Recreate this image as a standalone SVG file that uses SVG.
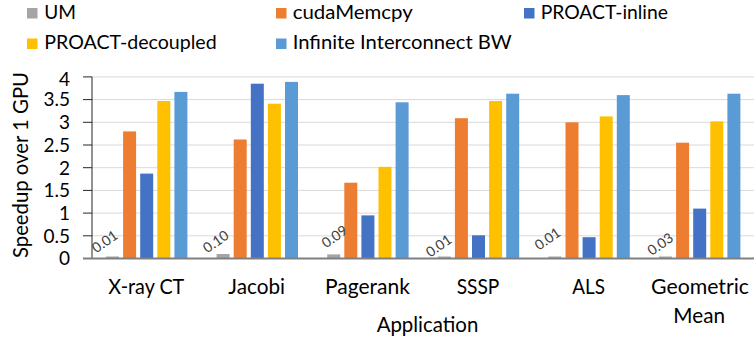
<svg xmlns="http://www.w3.org/2000/svg" width="754" height="343" viewBox="0 0 754 343">
  <style>
    text { font-family: Lato, "Liberation Sans", sans-serif; fill: #000; }
    .legend { font-size: 19.5px; }
    .tick { font-size: 19px; text-anchor: end; }
    .cat { font-size: 20.5px; text-anchor: middle; }
    .title { font-size: 20.5px; text-anchor: middle; }
    .val { font-size: 14px; text-anchor: middle; fill: #404040; }
    .grid line { stroke: #D9D9D9; stroke-width: 1; }
    .um { fill: #A5A5A5; }
    .cuda { fill: #ED7D31; }
    .inline { fill: #4472C4; }
    .dec { fill: #FFC000; }
    .inf { fill: #5B9BD5; }
  </style>

  <rect width="754" height="343" fill="#fff"/>

  <!-- legend -->
  <g id="legend">
    <g id="legend-um">
      <rect class="um" x="27" y="8" width="10.5" height="10.5"/>
      <text class="legend" x="44.3" y="19" textLength="31.7" lengthAdjust="spacingAndGlyphs">UM</text>
    </g>
    <g id="legend-cuda">
      <rect class="cuda" x="276" y="8" width="10.5" height="10.5"/>
      <text class="legend" x="292.7" y="19" textLength="120" lengthAdjust="spacingAndGlyphs">cudaMemcpy</text>
    </g>
    <g id="legend-inline">
      <rect class="inline" x="524" y="8" width="10.5" height="10.5"/>
      <text class="legend" x="540.7" y="19" textLength="127.3" lengthAdjust="spacingAndGlyphs">PROACT-inline</text>
    </g>
    <g id="legend-dec">
      <rect class="dec" x="27" y="38.5" width="10.5" height="10.5"/>
      <text class="legend" x="44.3" y="49" textLength="172.4" lengthAdjust="spacingAndGlyphs">PROACT-decoupled</text>
    </g>
    <g id="legend-inf">
      <rect class="inf" x="276" y="38.5" width="10.5" height="10.5"/>
      <text class="legend" x="292.7" y="49" textLength="219" lengthAdjust="spacingAndGlyphs">Infinite Interconnect BW</text>
    </g>
  </g>

  <!-- horizontal gridlines every 0.5 -->
  <g id="gridlines" class="grid">
    <line x1="92" y1="76.9" x2="754" y2="76.9"/>
    <line x1="92" y1="99.6" x2="754" y2="99.6"/>
    <line x1="92" y1="122.3" x2="754" y2="122.3"/>
    <line x1="92" y1="145" x2="754" y2="145"/>
    <line x1="92" y1="167.7" x2="754" y2="167.7"/>
    <line x1="92" y1="190.4" x2="754" y2="190.4"/>
    <line x1="92" y1="213.1" x2="754" y2="213.1"/>
    <line x1="92" y1="235.8" x2="754" y2="235.8"/>
  </g>

  <!-- bars: value v drawn from y = 258.5 - 45.4*v down to the axis -->
  <g id="bars-xray">
    <rect class="um" x="106" y="256.5" width="13" height="2"/>
    <rect class="cuda" x="123.1" y="131.4" width="13" height="127.1"/>
    <rect class="inline" x="140.2" y="173.6" width="13" height="84.9"/>
    <rect class="dec" x="157.3" y="101" width="13" height="157.5"/>
    <rect class="inf" x="174.4" y="91.9" width="13" height="166.6"/>
  </g>
  <g id="bars-jacobi">
    <rect class="um" x="216.6" y="254" width="13" height="4.5"/>
    <rect class="cuda" x="233.7" y="139.5" width="13" height="119"/>
    <rect class="inline" x="250.8" y="83.7" width="13" height="174.8"/>
    <rect class="dec" x="267.9" y="103.7" width="13" height="154.8"/>
    <rect class="inf" x="285" y="81.9" width="13" height="176.6"/>
  </g>
  <g id="bars-pagerank">
    <rect class="um" x="327.2" y="254.4" width="13" height="4.1"/>
    <rect class="cuda" x="344.3" y="182.7" width="13" height="75.8"/>
    <rect class="inline" x="361.4" y="215.4" width="13" height="43.1"/>
    <rect class="dec" x="378.5" y="166.8" width="13" height="91.7"/>
    <rect class="inf" x="395.6" y="102.3" width="13" height="156.2"/>
  </g>
  <g id="bars-sssp">
    <rect class="um" x="437.8" y="256.5" width="13" height="2"/>
    <rect class="cuda" x="454.9" y="118.2" width="13" height="140.3"/>
    <rect class="inline" x="472" y="235.3" width="13" height="23.2"/>
    <rect class="dec" x="489.1" y="101" width="13" height="157.5"/>
    <rect class="inf" x="506.2" y="93.7" width="13" height="164.8"/>
  </g>
  <g id="bars-als">
    <rect class="um" x="548.4" y="256.5" width="13" height="2"/>
    <rect class="cuda" x="565.5" y="122.3" width="13" height="136.2"/>
    <rect class="inline" x="582.6" y="237.2" width="13" height="21.3"/>
    <rect class="dec" x="599.7" y="116.4" width="13" height="142.1"/>
    <rect class="inf" x="616.8" y="95.1" width="13" height="163.4"/>
  </g>
  <g id="bars-geomean">
    <rect class="um" x="659" y="256.5" width="13" height="2"/>
    <rect class="cuda" x="676.1" y="142.7" width="13" height="115.8"/>
    <rect class="inline" x="693.2" y="208.6" width="13" height="49.9"/>
    <rect class="dec" x="710.3" y="121.4" width="13" height="137.1"/>
    <rect class="inf" x="727.4" y="93.7" width="13" height="164.8"/>
  </g>

  <!-- UM data labels, slanted -->
  <g id="um-labels">
    <text class="val" x="107.7" y="245.5" transform="rotate(-35 107.7 245.5)">0.01</text>
    <text class="val" x="218.7" y="245.5" transform="rotate(-35 218.7 245.5)">0.10</text>
    <text class="val" x="337.4" y="240.5" transform="rotate(-35 337.4 240.5)">0.09</text>
    <text class="val" x="441.5" y="249.8" transform="rotate(-35 441.5 249.8)">0.01</text>
    <text class="val" x="550.4" y="242.8" transform="rotate(-35 550.4 242.8)">0.01</text>
    <text class="val" x="663.2" y="248.1" transform="rotate(-35 663.2 248.1)">0.03</text>
  </g>

  <!-- axes -->
  <g id="axes">
    <line x1="92" y1="76.9" x2="92" y2="258.5" stroke="#262626" stroke-width="1"/>
    <g stroke="#262626" stroke-width="1">
      <line x1="83" y1="76.9" x2="92" y2="76.9"/>
      <line x1="83" y1="99.6" x2="92" y2="99.6"/>
      <line x1="83" y1="122.3" x2="92" y2="122.3"/>
      <line x1="83" y1="145" x2="92" y2="145"/>
      <line x1="83" y1="167.7" x2="92" y2="167.7"/>
      <line x1="83" y1="190.4" x2="92" y2="190.4"/>
      <line x1="83" y1="213.1" x2="92" y2="213.1"/>
      <line x1="83" y1="235.8" x2="92" y2="235.8"/>
    </g>
    <line x1="83" y1="258.5" x2="754" y2="258.5" stroke="#808080" stroke-width="2"/>
  </g>

  <!-- y tick labels -->
  <g id="y-ticks">
    <text class="tick" x="70" y="85.5">4</text>
    <text class="tick" x="70" y="106.4">3.5</text>
    <text class="tick" x="70" y="129.1">3</text>
    <text class="tick" x="70" y="151.8">2.5</text>
    <text class="tick" x="70" y="174.5">2</text>
    <text class="tick" x="70" y="197.2">1.5</text>
    <text class="tick" x="70" y="219.9">1</text>
    <text class="tick" x="70" y="242.6">0.5</text>
    <text class="tick" x="70" y="265.3">0</text>
  </g>

  <!-- category labels -->
  <g id="x-labels">
    <text class="cat" x="146.3" y="293.5" textLength="76" lengthAdjust="spacingAndGlyphs">X-ray CT</text>
    <text class="cat" x="256.7" y="293.5" textLength="56.7" lengthAdjust="spacingAndGlyphs">Jacobi</text>
    <text class="cat" x="367.5" y="293.5" textLength="85" lengthAdjust="spacingAndGlyphs">Pagerank</text>
    <text class="cat" x="478" y="293.5" textLength="42.7" lengthAdjust="spacingAndGlyphs">SSSP</text>
    <text class="cat" x="588.7" y="293.5" textLength="32.7" lengthAdjust="spacingAndGlyphs">ALS</text>
    <text class="cat" x="700" y="293.5" textLength="98" lengthAdjust="spacingAndGlyphs">Geometric</text>
    <text class="cat" x="699.2" y="322.5" textLength="51.7" lengthAdjust="spacingAndGlyphs">Mean</text>
  </g>

  <!-- axis titles -->
  <text id="x-title" class="title" x="427.5" y="332" textLength="101.7" lengthAdjust="spacingAndGlyphs">Application</text>
  <text id="y-title" class="title" x="27.5" y="165" transform="rotate(-90 27.5 165)" textLength="186" lengthAdjust="spacingAndGlyphs">Speedup over 1 GPU</text>
</svg>
